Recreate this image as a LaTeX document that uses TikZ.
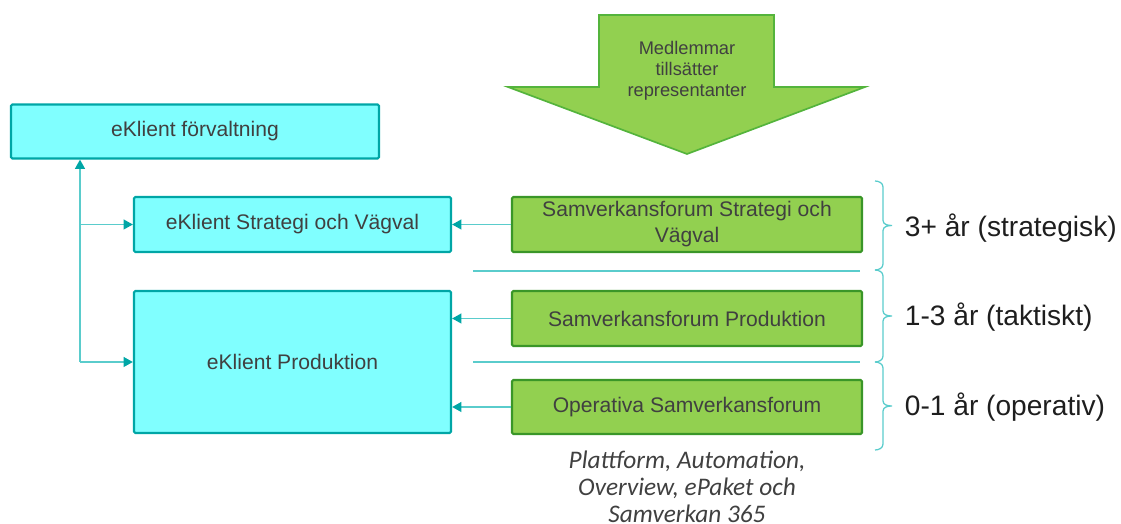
\documentclass[tikz,border=0pt]{standalone}
\usepackage{fontspec}
\setmainfont{Liberation Sans}
\newfontfamily\notefont{Carlito}
\usetikzlibrary{arrows.meta}

\begin{document}
\begin{tikzpicture}[x=0.025cm, y=-0.025cm]
  \definecolor{cyanfill}{RGB}{128,255,255}
  \definecolor{cyanedge}{RGB}{0,166,166}
  \definecolor{linkteal}{RGB}{90,204,204}
  \definecolor{greenfill}{RGB}{146,208,80}
  \definecolor{greenedge}{RGB}{58,150,40}
  \definecolor{arrowedge}{RGB}{84,180,60}
  \definecolor{textgray}{RGB}{64,64,64}
  \definecolor{labelgray}{RGB}{30,30,30}

  \tikzset{
    ebox/.style={draw=cyanedge, fill=cyanfill, line width=1.6pt, rounded corners=1pt,
      text=textgray, font=\fontsize{15}{18}\selectfont, inner sep=0pt,
      minimum width=7.925cm, minimum height=1.375cm},
    sfbox/.style={draw=greenedge, fill=greenfill, line width=1.6pt, rounded corners=1pt,
      text=textgray, font=\fontsize{15}{18.5}\selectfont, inner sep=0pt, align=center,
      minimum width=8.75cm, minimum height=1.375cm},
    link/.style={linkteal, line width=0.9pt,
      -{Triangle[length=6.5pt,width=7pt,color=cyanedge]}},
    sepline/.style={linkteal, line width=0.9pt},
    span/.style={linkteal, line width=0.9pt},
    horizon/.style={text=labelgray, font=\fontsize{20}{24}\selectfont, anchor=west}
  }

  \useasboundingbox (0,0) rectangle (1121,524);

  % members arrow
  \filldraw[fill=greenfill, draw=arrowedge, line width=1.2pt]
    (599,15) -- (774,15) -- (774,87) -- (865,87) -- (687,154)
    -- (508,87) -- (599,87) -- cycle;
  \node[text=textgray, font=\fontsize{13}{15}\selectfont, align=center] (members)
    at (687,71) {Medlemmar\\tillsätter\\representanter};

  % eKlient side
  \node[ebox, minimum width=9.2cm, minimum height=1.35cm] (forv) at (195,131.5) {eKlient förvaltning};
  \node[ebox] (strat) at (292.5,224.5) {eKlient Strategi och Vägval};
  \node[ebox, minimum height=3.55cm] (prod) at (292.5,362) {eKlient Produktion};

  % samverkan side
  \node[sfbox] (sfstrat) at (687,224.5) {Samverkansforum Strategi och\\Vägval};
  \node[sfbox] (sfprod) at (687,318.5) {Samverkansforum Produktion};
  \node[sfbox, minimum height=1.35cm] (sfop) at (687,407) {Operativa Samverkansforum};

  \node[text=textgray, font={\notefont\itshape\fontsize{18}{19.4}\selectfont}, align=center]
    (note) at (687,487) {Plattform, Automation,\\Overview, ePaket och\\Samverkan 365};

  % connectors
  \coordinate (trunk) at (80,362);
  \draw[link] (trunk) -- (trunk |- forv.south);
  \draw[link] (trunk) -- (prod.west);
  \draw[link] (trunk |- strat.west) -- (strat.west);
  \draw[link] (sfstrat.west) -- (strat.east);
  \draw[link] (sfprod.west) -- (sfprod.west -| prod.east);
  \draw[link] (sfop.west) -- (sfop.west -| prod.east);

  % horizons
  \draw[sepline] (473,271) -- (860,271);
  \draw[sepline] (473,362) -- (860,362);
  \foreach \top/\bot in {181/270, 270/362, 362/450} {
    \pgfmathsetmacro\mid{(\top+\bot)/2}
    \draw[span] (875,\top) to[out=0,in=90] (883,\top+6) -- (883,\mid-5)
      to[out=-90,in=180] (892,\mid) to[out=180,in=90] (883,\mid+5)
      -- (883,\bot-6) to[out=-90,in=0] (875,\bot);
  }
  \node[horizon] (long) at (900,228) {3+ år (strategisk)};
  \node[horizon] (mid) at (900,317) {1-3 år (taktiskt)};
  \node[horizon] (short) at (900,407) {0-1 år (operativ)};
\end{tikzpicture}
\end{document}
